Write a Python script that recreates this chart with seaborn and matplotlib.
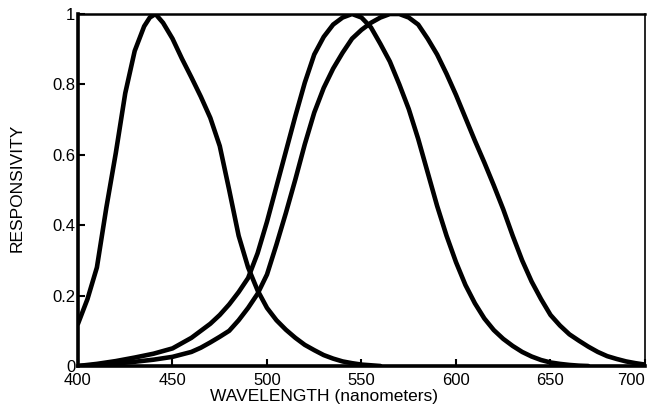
import numpy as np
import pandas as pd
import matplotlib
matplotlib.use("Agg")
import matplotlib.pyplot as plt
import seaborn as sns

# ---- data ----
wl_s = [400, 405, 410, 415, 420, 425, 430, 435, 438, 441, 445, 450, 455, 460,
        465, 470, 475, 480, 485, 490, 495, 500, 505, 510, 515, 520, 525, 530,
        535, 540, 545, 550, 555, 560]
resp_s = [0.12, 0.19, 0.28, 0.45, 0.605, 0.775, 0.895, 0.965, 0.99, 1.0, 0.975,
          0.93, 0.873, 0.82, 0.765, 0.705, 0.625, 0.50, 0.37, 0.28, 0.215,
          0.165, 0.13, 0.103, 0.08, 0.06, 0.045, 0.031, 0.021, 0.013, 0.008,
          0.004, 0.002, 0.0]

wl_m = [400, 410, 420, 430, 440, 450, 460, 470, 475, 480, 485, 490, 495, 500,
        505, 510, 515, 520, 525, 530, 535, 540, 545, 550, 555, 560, 565, 570,
        575, 580, 585, 590, 595, 600, 605, 610, 615, 620, 625, 630, 635, 640,
        645, 650, 655, 660, 665, 670]
resp_m = [0.0, 0.006, 0.014, 0.024, 0.035, 0.05, 0.08, 0.12, 0.145, 0.175,
          0.21, 0.25, 0.32, 0.41, 0.51, 0.61, 0.71, 0.805, 0.885, 0.935,
          0.97, 0.99, 1.0, 0.99, 0.962, 0.915, 0.865, 0.80, 0.73, 0.645,
          0.55, 0.455, 0.37, 0.295, 0.23, 0.178, 0.135, 0.102, 0.077, 0.057,
          0.04, 0.027, 0.017, 0.01, 0.006, 0.003, 0.001, 0.0]

wl_l = [400, 410, 420, 430, 440, 450, 460, 465, 470, 475, 480, 485, 490, 495,
        500, 505, 510, 515, 520, 525, 530, 535, 540, 545, 550, 555, 560, 565,
        570, 575, 580, 585, 590, 595, 600, 605, 610, 615, 620, 625, 630, 635,
        640, 645, 650, 655, 660, 665, 670, 675, 680, 685, 690, 695, 700]
resp_l = [0.0, 0.003, 0.007, 0.012, 0.018, 0.026, 0.04, 0.052, 0.067, 0.083,
          0.10, 0.13, 0.165, 0.205, 0.26, 0.345, 0.435, 0.53, 0.63, 0.72,
          0.79, 0.845, 0.89, 0.93, 0.955, 0.975, 0.99, 1.0, 1.0, 0.99, 0.97,
          0.93, 0.885, 0.83, 0.77, 0.705, 0.64, 0.578, 0.513, 0.445, 0.37,
          0.30, 0.24, 0.19, 0.145, 0.115, 0.09, 0.072, 0.055, 0.04, 0.028,
          0.02, 0.013, 0.008, 0.004]

x_ticks = [400, 450, 500, 550, 600, 650, 700]
y_ticks = [0, 0.2, 0.4, 0.6, 0.8, 1]
y_tick_labels = ["0", "0.2", "0.4", "0.6", "0.8", "1"]
x_label = "WAVELENGTH (nanometers)"
y_label = "RESPONSIVITY"

df = pd.concat([
    pd.DataFrame({"wl": wl_s, "r": resp_s, "cone": "S"}),
    pd.DataFrame({"wl": wl_m, "r": resp_m, "cone": "M"}),
    pd.DataFrame({"wl": wl_l, "r": resp_l, "cone": "L"}),
], ignore_index=True)

sns.set_theme(style="white")
plt.rcParams["font.family"] = ["Liberation Sans", "DejaVu Sans"]

W, H = 647, 417
x0, x1, y_top, y_bot = 78, 645, 14, 366
fig = plt.figure(figsize=(W / 100, H / 100), dpi=100)
ax = fig.add_axes([x0 / W, 1 - y_bot / H, (x1 - x0) / W, (y_bot - y_top) / H])

sns.lineplot(data=df, x="wl", y="r", hue="cone", units="cone", estimator=None,
             palette={"S": "black", "M": "black", "L": "black"},
             linewidth=3.3, legend=False, ax=ax, sort=False)
for ln in ax.get_lines():
    ln.set_solid_joinstyle("round")
    ln.set_solid_capstyle("round")
    ln.set_clip_on(True)

ax.set_xlim(400, 700)
ax.set_ylim(0, 1)
ax.set_xticks(x_ticks)
ax.set_yticks(y_ticks)
ax.set_yticklabels(y_tick_labels)
ax.tick_params(axis="both", direction="in", length=5, width=1.5, colors="black",
               labelsize=12, bottom=True, left=True)
ax.tick_params(axis="x", pad=5)
ax.tick_params(axis="y", pad=2)
xt = ax.get_xticklabels()
xt[-1].set_ha("right")

ax.set_xlabel(x_label, fontsize=12.5, color="black")
ax.xaxis.set_label_coords((323.5 - x0) / (x1 - x0), -(389 - y_bot) / (y_bot - y_top))
ax.set_ylabel(y_label, fontsize=12.5, color="black")
ax.yaxis.label.set_va("center")
ax.yaxis.set_label_coords(-(x0 - 17.5) / (x1 - x0), (y_bot - 188) / (y_bot - y_top))

for side, lw in {"left": 2.6, "bottom": 2.6, "top": 1.8, "right": 1.2}.items():
    ax.spines[side].set_visible(True)
    ax.spines[side].set_color("black")
    ax.spines[side].set_linewidth(lw)

fig.savefig("out.png", dpi=100)
